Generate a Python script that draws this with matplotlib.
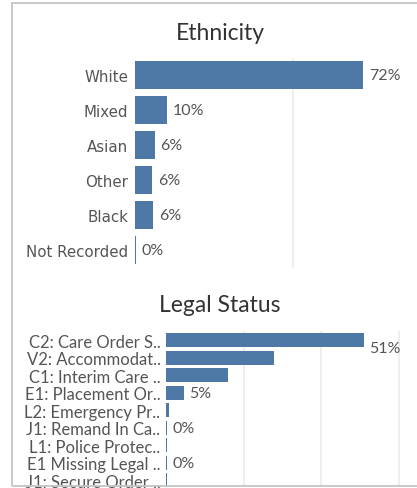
import matplotlib
matplotlib.use("Agg")
import matplotlib.pyplot as plt
from matplotlib.patches import Rectangle

# Ethnicity panel data
ethnicity_labels = ["White", "Mixed", "Asian", "Other", "Black", "Not Recorded"]
ethnicity_values = [72.0, 10.0, 6.3, 5.5, 5.8, 0.3]
ethnicity_text = ["72%", "10%", "6%", "6%", "6%", "0%"]

# Legal status panel data (None = label hidden)
legal_labels = [
    "C2: Care Order S..",
    "V2: Accommodat..",
    "C1: Interim Care ..",
    "E1: Placement Or..",
    "L2: Emergency Pr..",
    "J1: Remand In Ca..",
    "L1: Police Protec..",
    "E1 Missing Legal ..",
    "J1: Secure Order ..",
]
legal_values = [51.0, 27.9, 16.0, 4.6, 0.7, 0.3, 0.3, 0.3, 0.3]
legal_text = ["51%", None, None, "5%", None, "0%", None, "0%", None]

BAR = "#4e79a7"
TXT = "#555555"
GRID = "#ebebeb"
W, H = 417, 489


def px_axes(fig, left, top, right, bottom):
    return fig.add_axes([left / W, 1 - bottom / H, (right - left) / W, (bottom - top) / H])


def style_axis(ax, grid_ticks, label_font, label_size, pad):
    for s in ax.spines.values():
        s.set_visible(False)
    ax.set_xticks(grid_ticks)
    ax.tick_params(axis="x", length=0, labelbottom=False)
    ax.tick_params(axis="y", length=0, pad=pad, labelcolor=TXT)
    for t in ax.get_yticklabels():
        t.set_fontfamily(label_font)
        t.set_fontsize(label_size)
    ax.xaxis.grid(True, color=GRID, lw=1.2)
    ax.set_axisbelow(True)


fig = plt.figure(figsize=(W / 100, H / 100), dpi=100)
fig.patch.set_facecolor("white")

# panel border
fig.patches.append(Rectangle((12 / W, 1 - 487 / H), (W - 10) / W, 483 / H,
                             transform=fig.transFigure, fill=False,
                             edgecolor="#c4c4c4", lw=1.3))

# Ethnicity
ax1 = px_axes(fig, 135, 58.5, 417, 268.5)
y1 = range(len(ethnicity_labels))
ax1.barh(y1, ethnicity_values, height=0.8, color=BAR)
ax1.set_yticks(list(y1))
ax1.set_yticklabels(ethnicity_labels)
ax1.set_xlim(0, 89)
ax1.set_ylim(5.5, -0.5)
style_axis(ax1, [50], "DejaVu Sans", 10.8, 5)
for i, (v, t) in enumerate(zip(ethnicity_values, ethnicity_text)):
    ax1.annotate(t, (v, i), xytext=(4, 0), textcoords="offset points",
                 va="center", ha="left", fontsize=11.5, family="Lato", color=TXT)
fig.text(220 / W, 1 - 33 / H, "Ethnicity", ha="center", va="center",
         fontsize=16.5, family="Lato", color="#333333")

# Legal Status
ax2 = px_axes(fig, 166, 332.25, 417, 487)
y2 = range(len(legal_labels))
ax2.barh(y2, legal_values, height=0.8, color=BAR)
ax2.set_yticks(list(y2))
ax2.set_yticklabels(legal_labels)
ax2.set_xlim(0, 64.7)
ax2.set_ylim(8.34, -0.5)
style_axis(ax2, [20, 40, 60], "Lato", 12, 4)
for i, (v, t) in enumerate(zip(legal_values, legal_text)):
    if t is None:
        continue
    dy = -6 if i == 0 else 0
    ax2.annotate(t, (v, i), xytext=(4, dy), textcoords="offset points",
                 va="center", ha="left", fontsize=11.5, family="Lato", color=TXT)
fig.text(220 / W, 1 - 305 / H, "Legal Status", ha="center", va="center",
         fontsize=16.5, family="Lato", color="#333333")

fig.savefig("out.png", dpi=100)
